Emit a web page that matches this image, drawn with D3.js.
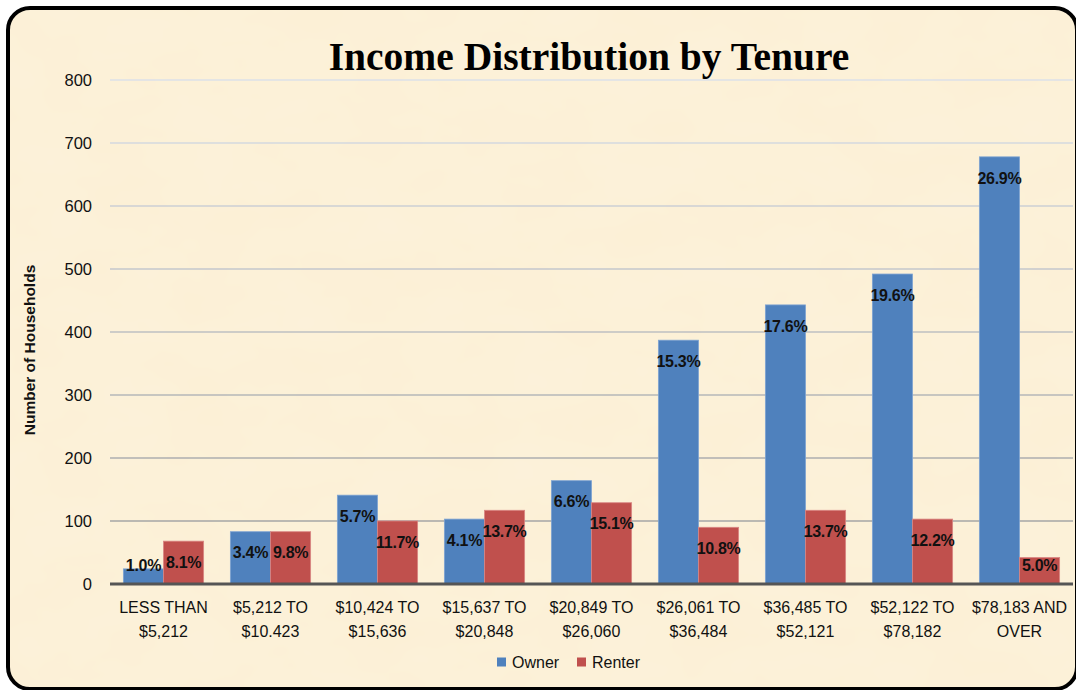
<!DOCTYPE html>
<html>
<head>
<meta charset="utf-8">
<script src="https://cdn.jsdelivr.net/npm/d3@7.9.0/dist/d3.min.js"></script>
<style>
  html, body { margin: 0; padding: 0; background: #fff; }
  svg { display: block; }
</style>
</head>
<body>
<svg id="chart" width="1076" height="690"></svg>
<script>
const categories = [
  ['LESS THAN', '$5,212'],
  ['$5,212 TO', '$10.423'],
  ['$10,424 TO', '$15,636'],
  ['$15,637 TO', '$20,848'],
  ['$20,849 TO', '$26,060'],
  ['$26,061 TO', '$36,484'],
  ['$36,485 TO', '$52,121'],
  ['$52,122 TO', '$78,182'],
  ['$78,183 AND', 'OVER'],
];
const series = ['Owner', 'Renter'];
const ownerValues = [24, 83, 141, 103, 164, 387, 443, 492, 678];
const renterValues = [68, 83, 100, 117, 129, 90, 117, 103, 42];
const ownerPct = ['1.0%', '3.4%', '5.7%', '4.1%', '6.6%', '15.3%', '17.6%', '19.6%', '26.9%'];
const renterPct = ['8.1%', '9.8%', '11.7%', '13.7%', '15.1%', '10.8%', '13.7%', '12.2%', '5.0%'];
const yTicks = [0, 100, 200, 300, 400, 500, 600, 700, 800];

const COLORS = { Owner: '#4F81BD', Renter: '#C0504D' };
const EDGE = { Owner: '#7ea3d2', Renter: '#d98683' };
const SANS = '"Liberation Sans", Arial, sans-serif';

const svg = d3.select('#chart');
const defs = svg.append('defs');

// parchment texture
const tex = defs.append('filter').attr('id', 'paper').attr('x', 0).attr('y', 0).attr('width', 1).attr('height', 1);
tex.append('feTurbulence').attr('type', 'fractalNoise').attr('baseFrequency', '0.012 0.02').attr('numOctaves', 3).attr('seed', 7).attr('result', 'noise');
tex.append('feColorMatrix').attr('in', 'noise').attr('type', 'matrix')
  .attr('values', '0 0 0 0 0.98  0 0 0 0 0.90  0 0 0 0 0.74  0 0 0 0.6 -0.12');

const clip = defs.append('clipPath').attr('id', 'frameClip');
clip.append('rect').attr('x', 8).attr('y', 8).attr('width', 1069).attr('height', 681).attr('rx', 22);

svg.append('rect')
  .attr('x', 8).attr('y', 8).attr('width', 1069).attr('height', 681).attr('rx', 22)
  .attr('fill', '#fcf0d6');
svg.append('g').attr('clip-path', 'url(#frameClip)')
  .append('rect').attr('x', 0).attr('y', 0).attr('width', 1076).attr('height', 690)
  .attr('filter', 'url(#paper)');

const margin = { left: 110, right: 1073, top: 80, bottom: 584 };

const x0 = d3.scaleBand()
  .domain(d3.range(categories.length))
  .range([margin.left, margin.right])
  .paddingInner(0.25)
  .paddingOuter(0.125);
const x1 = d3.scaleBand().domain(series).range([0, x0.bandwidth()]);
const y = d3.scaleLinear().domain([0, 800]).range([margin.bottom, margin.top]);

// gridlines: lighter toward the top
const gridColor = d3.scaleLinear().domain([100, 800]).range(['#a6a6a6', '#dde0e8']);
svg.append('g')
  .selectAll('line')
  .data(yTicks.filter(d => d > 0))
  .join('line')
  .attr('x1', margin.left).attr('x2', margin.right)
  .attr('y1', d => y(d)).attr('y2', d => y(d))
  .attr('stroke', d => gridColor(d))
  .attr('stroke-width', 1.5);

// y axis labels
const yAxis = d3.axisLeft(y).tickValues(yTicks).tickSize(0).tickPadding(18);
const yg = svg.append('g').attr('transform', `translate(${margin.left},0)`).call(yAxis);
yg.select('.domain').remove();
yg.selectAll('text').attr('font-family', SANS).attr('font-size', 16.5).attr('fill', '#111');

// bars
const rows = categories.map((c, i) => ({
  i,
  values: [
    { key: 'Owner', value: ownerValues[i], pct: ownerPct[i] },
    { key: 'Renter', value: renterValues[i], pct: renterPct[i] },
  ],
}));

const groups = svg.append('g').selectAll('g')
  .data(rows)
  .join('g')
  .attr('transform', d => `translate(${x0(d.i)},0)`);

groups.selectAll('rect')
  .data(d => d.values)
  .join('rect')
  .attr('x', d => x1(d.key))
  .attr('y', d => y(d.value))
  .attr('width', x1.bandwidth())
  .attr('height', d => y(0) - y(d.value))
  .attr('fill', d => COLORS[d.key])
  .attr('stroke', d => EDGE[d.key])
  .attr('stroke-width', 0.8);

groups.selectAll('text')
  .data(d => d.values)
  .join('text')
  .attr('x', d => x1(d.key) + x1.bandwidth() / 2)
  .attr('y', d => Math.min(y(d.value) + 21, 565))
  .attr('dy', '0.36em')
  .attr('text-anchor', 'middle')
  .attr('font-family', SANS)
  .attr('font-weight', 'bold')
  .attr('font-size', 16)
  .attr('letter-spacing', -0.3)
  .attr('fill', '#111')
  .text(d => d.pct);

// zero line
svg.append('line')
  .attr('x1', margin.left).attr('x2', margin.right)
  .attr('y1', y(0)).attr('y2', y(0))
  .attr('stroke', '#555').attr('stroke-width', 3);

// category labels
const xl = svg.append('g').selectAll('text')
  .data(categories)
  .join('text')
  .attr('x', (d, i) => x0(i) + x0.bandwidth() / 2)
  .attr('y', 613)
  .attr('text-anchor', 'middle')
  .attr('font-family', SANS)
  .attr('font-size', 16)
  .attr('fill', '#111');
xl.selectAll('tspan')
  .data(d => d)
  .join('tspan')
  .attr('x', function () { return this.parentNode.getAttribute('x'); })
  .attr('dy', (d, i) => i === 0 ? 0 : 24)
  .text(d => d);

// title
svg.append('text')
  .attr('x', 589).attr('y', 70)
  .attr('text-anchor', 'middle')
  .attr('font-family', '"Liberation Serif", "Times New Roman", serif')
  .attr('font-weight', 'bold')
  .attr('font-size', 39.5)
  .attr('fill', '#000')
  .text('Income Distribution by Tenure');

// y axis title
svg.append('text')
  .attr('transform', 'translate(35,350) rotate(-90)')
  .attr('text-anchor', 'middle')
  .attr('font-family', SANS)
  .attr('font-weight', 'bold')
  .attr('font-size', 15.5)
  .attr('fill', '#111')
  .text('Number of Households');

// legend
const legend = svg.append('g').attr('transform', 'translate(497,662)');
const legendX = [0, 80];
const li = legend.selectAll('g')
  .data(series)
  .join('g')
  .attr('transform', (d, i) => `translate(${legendX[i]},0)`);
li.append('rect')
  .attr('x', 0).attr('y', -4.5).attr('width', 9).attr('height', 9)
  .attr('fill', d => COLORS[d]);
li.append('text')
  .attr('x', 15).attr('y', 0).attr('dy', '0.36em')
  .attr('font-family', SANS)
  .attr('font-size', 16)
  .attr('fill', '#111')
  .text(d => d);

// frame
svg.append('rect')
  .attr('x', 8).attr('y', 8).attr('width', 1069).attr('height', 681).attr('rx', 22)
  .attr('fill', 'none')
  .attr('stroke', '#000')
  .attr('stroke-width', 4);
</script>
</body>
</html>
